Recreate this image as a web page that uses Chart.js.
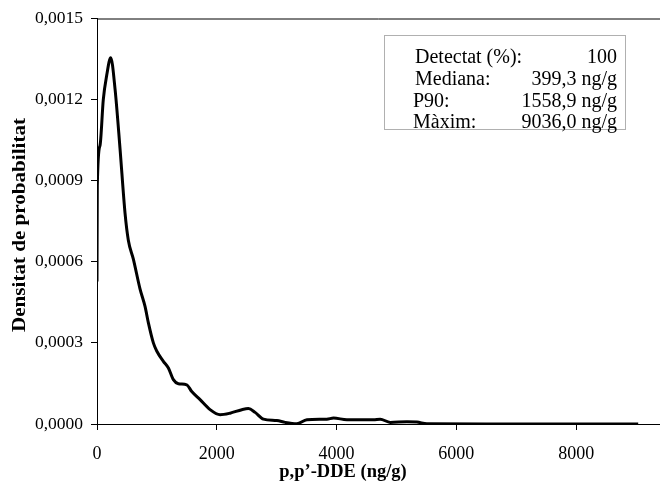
<!DOCTYPE html>
<html>
<head>
<meta charset="utf-8">
<script src="https://cdn.jsdelivr.net/npm/chart.js@4/dist/chart.umd.min.js"></script>
<style>
  html, body { margin: 0; padding: 0; background: #fff; }
  #wrap { width: 660px; height: 491px; position: relative; }
</style>
</head>
<body>
<div id="wrap"><canvas id="c" width="660" height="491"></canvas></div>
<script>
// Data (x in ng/g, y = probability density)
const xValues = [0, 5, 50, 105, 162, 229, 301, 384, 468, 523, 607, 718, 802, 858, 941, 997,
  1108, 1192, 1275, 1358, 1498, 1582, 1721, 1888, 2055, 2222, 2418, 2528, 2640, 2779, 3002,
  3141, 3336, 3504, 3838, 3949, 4172, 4617, 4728, 4896, 5175, 5342, 5509, 6500, 9036];
const density = [0.000527, 0.00088, 0.00103, 0.0012, 0.00129, 0.001355, 0.00124, 0.00102,
  0.00078, 0.00068, 0.00061, 0.0005, 0.000435, 0.000374, 0.0003, 0.00027,
  0.000232, 0.000207, 0.000164, 0.000149, 0.000145, 0.00012, 0.00009, 0.000053, 0.000034,
  0.00004, 0.000053, 0.000057, 0.000043, 0.000018, 0.000013,
  0.000006, 0.000001, 0.000016, 0.000018, 0.000022, 0.000016, 0.000016, 0.000018, 0.000006,
  0.000008, 0.000007, 0.000001, 0, 0];

const xTicks = [0, 2000, 4000, 6000, 8000];
const yTicks = [0, 0.0003, 0.0006, 0.0009, 0.0012, 0.0015];

const statLabels = ["Detectat (%):", "Mediana:", "P90:", "Màxim:"];
const statValues = ["100", "399,3 ng/g", "1558,9 ng/g", "9036,0 ng/g"];

const xTitle = "p,p’-DDE (ng/g)";
const yTitle = "Densitat de probabilitat";

const SERIF = '"Liberation Serif", "Times New Roman", serif';

const points = xValues.map((x, i) => ({ x: x, y: density[i] }));

const extrasPlugin = {
  id: 'extras',
  afterDraw(chart) {
    const ctx = chart.ctx;
    const a = chart.chartArea;
    ctx.save();
    // top border line
    ctx.strokeStyle = '#000';
    ctx.lineWidth = 1;
    ctx.beginPath();
    ctx.moveTo(a.left, a.top + 0.5);
    ctx.lineTo(a.right, a.top + 0.5);
    ctx.stroke();
    // stats box
    const bx = 384.5, by = 35.5, bw = 241, bh = 94;
    ctx.fillStyle = '#fff';
    ctx.fillRect(bx, by, bw, bh);
    ctx.strokeStyle = '#b0b0b0';
    ctx.strokeRect(bx, by, bw, bh);
    ctx.fillStyle = '#000';
    ctx.font = '20px ' + SERIF;
    ctx.textBaseline = 'alphabetic';
    const baselines = [63, 85, 107, 128];
    const lx = [415, 415, 413, 413];
    statLabels.forEach((t, i) => {
      ctx.textAlign = 'left';
      ctx.fillText(t, lx[i], baselines[i]);
      ctx.textAlign = 'right';
      ctx.fillText(statValues[i], 617, baselines[i]);
    });
    // axis titles
    ctx.font = 'bold 18.5px ' + SERIF;
    ctx.textAlign = 'center';
    ctx.textBaseline = 'middle';
    ctx.fillText(xTitle, 343, 472);
    ctx.translate(20, 225);
    ctx.rotate(-Math.PI / 2);
    const w = ctx.measureText(yTitle).width;
    ctx.scale(214 / w, 1);
    ctx.fillText(yTitle, 0, 0);
    ctx.restore();
  }
};

new Chart(document.getElementById('c'), {
  type: 'line',
  data: {
    datasets: [{
      data: points,
      borderColor: '#000',
      borderWidth: 3,
      pointRadius: 0,
      fill: false,
      tension: 0.4,
      cubicInterpolationMode: 'monotone'
    }]
  },
  options: {
    responsive: false,
    animation: false,
    devicePixelRatio: 1,
    layout: { padding: { top: 18, right: 0, left: 0, bottom: 0 } },
    plugins: { legend: { display: false }, tooltip: { enabled: false } },
    scales: {
      x: {
        type: 'linear',
        min: 0,
        max: 9400,
        afterFit(scale) { scale.height = 67; },
        afterBuildTicks(scale) { scale.ticks = xTicks.map(v => ({ value: v })); },
        ticks: {
          color: '#000',
          font: { family: SERIF, size: 18 },
          padding: 13,
          maxRotation: 0,
          autoSkip: false,
          callback: (v) => String(v)
        },
        grid: { drawOnChartArea: false, drawTicks: true, tickLength: 6, color: '#000', lineWidth: 1 },
        border: { display: true, color: '#000', width: 1 }
      },
      y: {
        type: 'linear',
        min: 0,
        max: 0.0015,
        afterFit(scale) { scale.width = 97; },
        afterBuildTicks(scale) { scale.ticks = yTicks.map(v => ({ value: v })); },
        ticks: {
          color: '#000',
          font: { family: SERIF, size: 17.5 },
          padding: 8,
          autoSkip: false,
          callback: (v) => v.toFixed(4).replace('.', ',')
        },
        grid: { drawOnChartArea: false, drawTicks: true, tickLength: 6, color: '#000', lineWidth: 1 },
        border: { display: true, color: '#000', width: 1 }
      }
    }
  },
  plugins: [extrasPlugin]
});
</script>
</body>
</html>
